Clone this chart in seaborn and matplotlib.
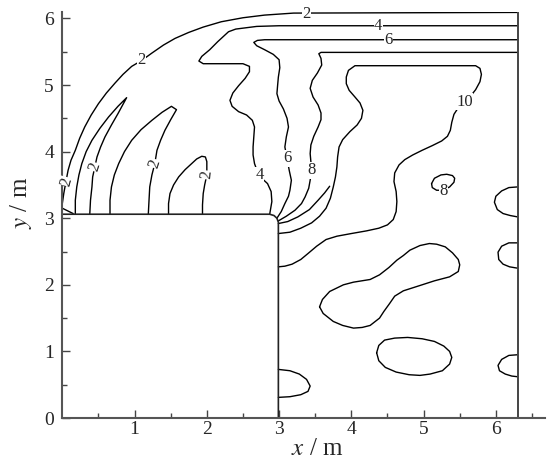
import pandas as pd
import matplotlib
matplotlib.use("Agg")
import matplotlib.pyplot as plt
import seaborn as sns

# contour lines (x, y in m)
c2_outer_x = [0.00, 0.02, 0.05, 0.08, 0.12, 0.18, 0.24, 0.31, 0.40, 0.50, 0.61, 0.73, 0.84, 0.96,
              1.10, 1.24, 1.40, 1.56, 1.75, 1.95, 2.20, 2.50, 2.80, 3.20, 6.30]
c2_outer_y = [3.22, 3.37, 3.55, 3.72, 3.87, 4.02, 4.20, 4.37, 4.55, 4.72, 4.88, 5.03, 5.16, 5.28,
              5.37, 5.48, 5.60, 5.70, 5.79, 5.87, 5.95, 6.01, 6.05, 6.08, 6.09]

c2_corner_x = [0.00, 0.15]
c2_corner_y = [3.15, 3.07]

c2_tongue_x = [0.18, 0.18, 0.20, 0.23, 0.27, 0.33, 0.41, 0.52, 0.64, 0.77, 0.89, 0.83, 0.77, 0.68,
               0.59, 0.53, 0.48, 0.45, 0.42, 0.41, 0.39, 0.38]
c2_tongue_y = [3.06, 3.27, 3.47, 3.65, 3.82, 4.00, 4.17, 4.35, 4.52, 4.68, 4.81, 4.69, 4.57, 4.40,
               4.22, 4.07, 3.92, 3.77, 3.62, 3.47, 3.27, 3.06]

c2_arc_x = [0.66, 0.66, 0.68, 0.72, 0.78, 0.86, 0.96, 1.09, 1.24, 1.38, 1.51, 1.58, 1.50, 1.42,
            1.36, 1.31, 1.28, 1.24, 1.21, 1.20, 1.19]
c2_arc_y = [3.06, 3.27, 3.47, 3.65, 3.82, 4.00, 4.17, 4.33, 4.47, 4.59, 4.68, 4.63, 4.48, 4.32,
            4.17, 4.02, 3.82, 3.65, 3.47, 3.27, 3.06]

c2_hump_x = [1.47, 1.47, 1.49, 1.54, 1.61, 1.70, 1.79, 1.86, 1.93, 1.98, 2.00, 2.00, 1.97, 1.95, 1.94, 1.94]
c2_hump_y = [3.06, 3.22, 3.37, 3.50, 3.62, 3.73, 3.82, 3.89, 3.93, 3.92, 3.85, 3.65, 3.50, 3.37, 3.20, 3.06]

c4_x = [2.87, 2.90, 2.89, 2.84, 2.76, 2.70, 2.66, 2.64, 2.64, 2.65, 2.66, 2.63, 2.55, 2.44, 2.35,
        2.32, 2.36, 2.44, 2.53, 2.59, 2.59, 2.50, 2.20, 1.95, 1.89, 1.93, 2.04, 2.15, 2.23, 2.30,
        2.40, 2.69, 3.00, 6.30]
c4_y = [3.06, 3.25, 3.40, 3.52, 3.60, 3.70, 3.82, 3.95, 4.07, 4.22, 4.37, 4.47, 4.55, 4.60, 4.68,
        4.77, 4.88, 4.99, 5.10, 5.20, 5.28, 5.32, 5.32, 5.32, 5.36, 5.43, 5.53, 5.65, 5.73, 5.80,
        5.84, 5.88, 5.89, 5.89]

c6_x = [2.97, 3.03, 3.08, 3.13, 3.15, 3.17, 3.14, 3.11, 3.08, 3.10, 3.13, 3.11, 3.06, 3.00, 2.97,
        2.98, 2.99, 3.01, 3.00, 2.92, 2.80, 2.69, 2.65, 2.70, 2.80, 6.30]
c6_y = [3.00, 3.10, 3.22, 3.33, 3.42, 3.57, 3.72, 3.90, 4.07, 4.22, 4.37, 4.50, 4.64, 4.76, 4.87,
        5.00, 5.12, 5.26, 5.38, 5.46, 5.53, 5.59, 5.64, 5.67, 5.68, 5.68]

c8_x = [2.99, 3.10, 3.22, 3.31, 3.36, 3.41, 3.43, 3.45, 3.44, 3.43, 3.44, 3.48, 3.54, 3.58, 3.58,
        3.54, 3.47, 3.43, 3.46, 3.53, 3.59, 3.58, 3.55, 3.58, 6.30]
c8_y = [2.96, 3.03, 3.12, 3.22, 3.32, 3.45, 3.57, 3.72, 3.85, 3.97, 4.10, 4.23, 4.37, 4.48, 4.58,
        4.70, 4.82, 4.95, 5.07, 5.18, 5.30, 5.40, 5.47, 5.49, 5.49]

c10_x = [2.99, 3.15, 3.30, 3.45, 3.56, 3.65, 3.71, 3.75, 3.78, 3.80, 3.81, 3.83, 3.88, 3.98, 4.08,
         4.14, 4.16, 4.12, 4.05, 3.97, 3.93, 3.93, 3.96, 4.05, 5.72, 5.78, 5.80, 5.78, 5.72, 5.64,
         5.57, 5.48, 5.42, 5.39, 5.37, 5.33, 5.25, 5.12, 4.98, 4.85, 4.74, 4.66, 4.60, 4.59, 4.62,
         4.63, 4.62, 4.58, 4.50, 4.38, 4.21, 4.00, 3.80, 3.65, 3.52, 3.40, 3.30, 3.18, 3.08, 2.99]
c10_y = [2.77, 2.79, 2.85, 2.93, 3.03, 3.15, 3.30, 3.47, 3.62, 3.77, 3.92, 4.07, 4.18, 4.30, 4.40,
         4.50, 4.62, 4.73, 4.82, 4.92, 5.02, 5.12, 5.22, 5.29, 5.29, 5.25, 5.16, 5.05, 4.93, 4.82,
         4.74, 4.66, 4.56, 4.44, 4.32, 4.23, 4.16, 4.09, 4.02, 3.95, 3.88, 3.80, 3.68, 3.55, 3.40,
         3.25, 3.10, 2.98, 2.90, 2.85, 2.81, 2.77, 2.73, 2.68, 2.58, 2.47, 2.38, 2.31, 2.28, 2.27]

c_extra_x = [2.99, 3.12, 3.26, 3.42, 3.54, 3.63, 3.70]
c_extra_y = [2.92, 2.95, 3.02, 3.13, 3.27, 3.38, 3.48]

loop_c_x = [3.56, 3.60, 3.70, 3.89, 4.03, 4.26, 4.39, 4.52, 4.63, 4.72, 4.81, 4.95, 5.08, 5.18, 5.30,
            5.40, 5.48, 5.50, 5.48, 5.36, 5.15, 4.95, 4.72, 4.60, 4.53, 4.45, 4.39, 4.26, 4.15,
            4.03, 3.88, 3.75, 3.61, 3.56]
loop_c_y = [1.67, 1.78, 1.90, 2.00, 2.04, 2.08, 2.15, 2.26, 2.37, 2.44, 2.52, 2.59, 2.62, 2.61, 2.57,
            2.48, 2.38, 2.30, 2.20, 2.12, 2.06, 1.99, 1.91, 1.83, 1.72, 1.60, 1.50, 1.39, 1.36,
            1.35, 1.39, 1.45, 1.57, 1.67]

loop_d_x = [4.35, 4.38, 4.46, 4.60, 4.78, 4.98, 5.15, 5.28, 5.36, 5.39, 5.36, 5.26, 5.09, 4.95,
            4.80, 4.62, 4.47, 4.38, 4.35]
loop_d_y = [0.98, 1.09, 1.17, 1.20, 1.21, 1.19, 1.15, 1.08, 1.00, 0.91, 0.81, 0.71, 0.66, 0.64,
            0.65, 0.69, 0.76, 0.86, 0.98]

loop_e_x = [2.99, 3.15, 3.28, 3.38, 3.43, 3.40, 3.30, 3.15, 2.99]
loop_e_y = [0.73, 0.71, 0.66, 0.58, 0.48, 0.40, 0.35, 0.32, 0.31]

r1_x = [6.30, 6.18, 6.08, 6.00, 5.98, 6.02, 6.10, 6.20, 6.30]
r1_y = [3.47, 3.46, 3.41, 3.33, 3.24, 3.13, 3.07, 3.04, 3.02]
r2_x = [6.30, 6.18, 6.08, 6.03, 6.04, 6.10, 6.19, 6.30]
r2_y = [2.63, 2.63, 2.58, 2.49, 2.38, 2.31, 2.27, 2.25]
r3_x = [6.30, 6.18, 6.08, 6.03, 6.05, 6.13, 6.22, 6.30]
r3_y = [0.95, 0.94, 0.88, 0.79, 0.71, 0.66, 0.63, 0.62]

c8_small_x = [5.11, 5.15, 5.24, 5.32, 5.40, 5.43, 5.42, 5.36, 5.27, 5.18, 5.12, 5.11]
c8_small_y = [3.52, 3.60, 3.65, 3.66, 3.64, 3.60, 3.54, 3.47, 3.42, 3.42, 3.46, 3.52]

# obstacle outline and right boundary
obstacle_x = [0.00, 2.87, 2.93, 2.97, 2.99, 2.99]
obstacle_y = [3.06, 3.06, 3.04, 3.00, 2.94, 0.00]
boundary_x = [6.30, 6.30]
boundary_y = [0.00, 6.09]

# contour labels: text, x, y, rotation
label_text = ["2", "2", "2", "2", "2", "4", "6", "8", "2", "4", "6", "10", "8"]
label_x = [1.10, 0.06, 0.45, 1.28, 2.00, 2.73, 3.11, 3.45, 3.38, 4.37, 4.51, 5.57, 5.27]
label_y = [5.37, 3.55, 3.77, 3.82, 3.65, 3.65, 3.90, 3.72, 6.06, 5.89, 5.68, 4.75, 3.41]
label_rot = [0, 75, 72, 72, 85, 0, 0, 0, 0, 0, 0, 0, 0]

lines = {
    "c2_outer": (c2_outer_x, c2_outer_y),
    "c2_corner": (c2_corner_x, c2_corner_y),
    "c2_tongue": (c2_tongue_x, c2_tongue_y),
    "c2_arc": (c2_arc_x, c2_arc_y),
    "c2_hump": (c2_hump_x, c2_hump_y),
    "c4": (c4_x, c4_y),
    "c6": (c6_x, c6_y),
    "c8": (c8_x, c8_y),
    "c10": (c10_x, c10_y),
    "c_extra": (c_extra_x, c_extra_y),
    "loop_c": (loop_c_x, loop_c_y),
    "loop_d": (loop_d_x, loop_d_y),
    "loop_e": (loop_e_x, loop_e_y),
    "r1": (r1_x, r1_y),
    "r2": (r2_x, r2_y),
    "r3": (r3_x, r3_y),
    "c8_small": (c8_small_x, c8_small_y),
}

rows = []
for name, (xs, ys) in lines.items():
    for i, (x, y) in enumerate(zip(xs, ys)):
        rows.append({"line": name, "order": i, "x": x, "y": y})
df = pd.DataFrame(rows)

sns.set_theme(style="ticks")
plt.rcParams["font.family"] = "serif"
plt.rcParams["font.serif"] = ["Liberation Serif", "DejaVu Serif"]
plt.rcParams["mathtext.fontset"] = "stix"

fig = plt.figure(figsize=(5.5, 4.62), dpi=100)
ax = fig.add_axes([0.1133, 0.0952, 0.8776, 0.8779])

sns.lineplot(data=df, x="x", y="y", units="line", estimator=None, sort=False,
             color="black", linewidth=1.0, ax=ax, legend=False)

# obstacle and domain edge
sns.lineplot(x=obstacle_x, y=obstacle_y, sort=False, estimator=None, color="#222222", linewidth=1.2, ax=ax)
sns.lineplot(x=boundary_x, y=boundary_y, sort=False, estimator=None, color="#444444", linewidth=1.4, ax=ax)

for t, x, y, r in zip(label_text, label_x, label_y, label_rot):
    ax.text(x, y, t, fontsize=12, ha="center", va="center", rotation=r, zorder=5,
            bbox=dict(facecolor="white", edgecolor="none", pad=0.3))

ax.set_xlim(0, 6.68)
ax.set_ylim(0, 6.09)
ax.set_xticks([1, 2, 3, 4, 5, 6])
ax.set_xticks([0.5, 1.5, 2.5, 3.5, 4.5, 5.5, 6.5], minor=True)
ax.set_yticks([0, 1, 2, 3, 4, 5, 6])
ax.set_yticks([0.5, 1.5, 2.5, 3.5, 4.5, 5.5], minor=True)
ax.tick_params(which="major", direction="in", length=6, width=1.0, labelsize=14, color="#444444")
ax.tick_params(which="minor", direction="in", length=3.5, width=1.0, color="#444444")
ax.tick_params(axis="x", pad=2)
ax.tick_params(axis="y", pad=6)

sns.despine(ax=ax)
for side in ["left", "bottom"]:
    ax.spines[side].set_color("#555555")
    ax.spines[side].set_linewidth(1.5)

ax.set_xlabel("$x$ / m", fontsize=18)
ax.set_ylabel("$y$ / m", fontsize=18)
ax.xaxis.set_label_coords(0.528, -0.05)
ax.yaxis.set_label_coords(-0.058, 0.53)

fig.savefig("out.png", dpi=100)
